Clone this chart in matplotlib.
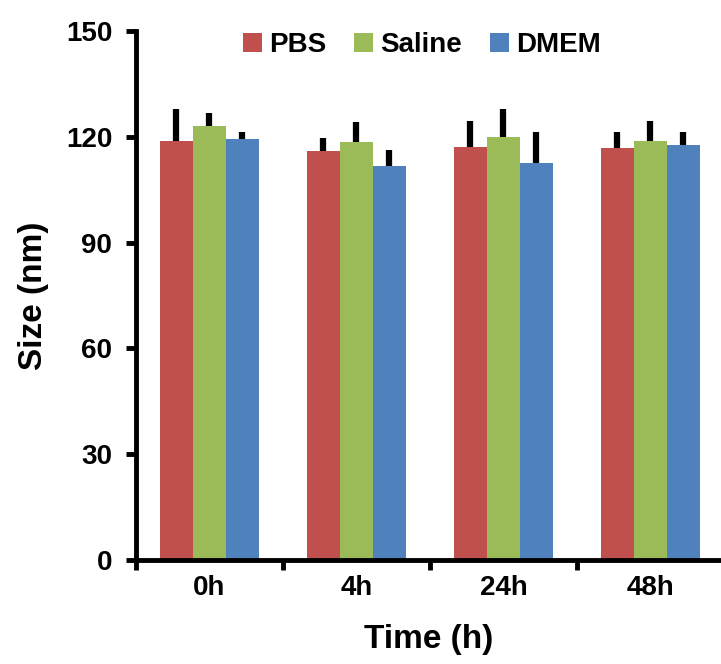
import numpy as np
import matplotlib
matplotlib.use("Agg")
import matplotlib.pyplot as plt

plt.rcParams['font.family'] = ['Liberation Sans', 'DejaVu Sans']
plt.rcParams['font.weight'] = 'bold'

times = ["0h", "4h", "24h", "48h"]
groups = ["PBS", "Saline", "DMEM"]
colors = ["#C0504D", "#9BBB59", "#4F81BD"]

pbs = [118.8, 116.0, 117.1, 116.8]
saline = [123.0, 118.4, 120.0, 118.8]
dmem = [119.3, 111.7, 112.7, 117.6]

pbs_err = [9.2, 3.6, 7.5, 4.5]
saline_err = [3.7, 5.8, 8.0, 5.8]
dmem_err = [2.0, 4.6, 8.6, 3.7]

means = [pbs, saline, dmem]
errs = [pbs_err, saline_err, dmem_err]

fig = plt.figure(figsize=(7.21, 6.64), dpi=100)
ax = fig.add_axes([0.1886, 0.1566, 0.8114, 0.7967])

x = np.arange(len(times))
w = 0.2245
for i in range(3):
    pos = x + (i - 1) * w
    ax.bar(pos, means[i], width=w, color=colors[i], label=groups[i], zorder=2)
    ax.errorbar(pos, means[i], yerr=[np.zeros(len(times)), errs[i]], fmt='none',
                ecolor='black', elinewidth=4.5, capsize=0, zorder=3)

ax.set_ylim(0, 150)
ax.set_yticks([0, 30, 60, 90, 120, 150])
ax.set_xlim(-0.5, 3.48)
ax.set_xticks(np.arange(-0.5, 3.0, 1.0))
ax.set_xticklabels([])
ax.set_xticks(x, minor=True)
ax.set_xticklabels(times, minor=True)

for s in ['top', 'right']:
    ax.spines[s].set_visible(False)
for s in ['left', 'bottom']:
    ax.spines[s].set_linewidth(3.5)

ax.tick_params(axis='y', which='major', direction='out', length=7, width=3.5,
               labelsize=20, pad=10)
ax.tick_params(axis='x', which='major', direction='out', length=7, width=3.5)
ax.tick_params(axis='x', which='minor', length=0, labelsize=20, pad=11)

ax.set_ylabel("Size (nm)", fontsize=24, fontweight='bold', labelpad=12)
ax.set_xlabel("Time (h)", fontsize=24, fontweight='bold', labelpad=16)

fig.legend(loc='center', bbox_to_anchor=(0.585, 0.932), ncol=3, frameon=False,
           handlelength=0.7, handleheight=0.7, handletextpad=0.25,
           columnspacing=1.0, prop={'weight': 'bold', 'size': 20})

fig.savefig("out.png", dpi=100)
